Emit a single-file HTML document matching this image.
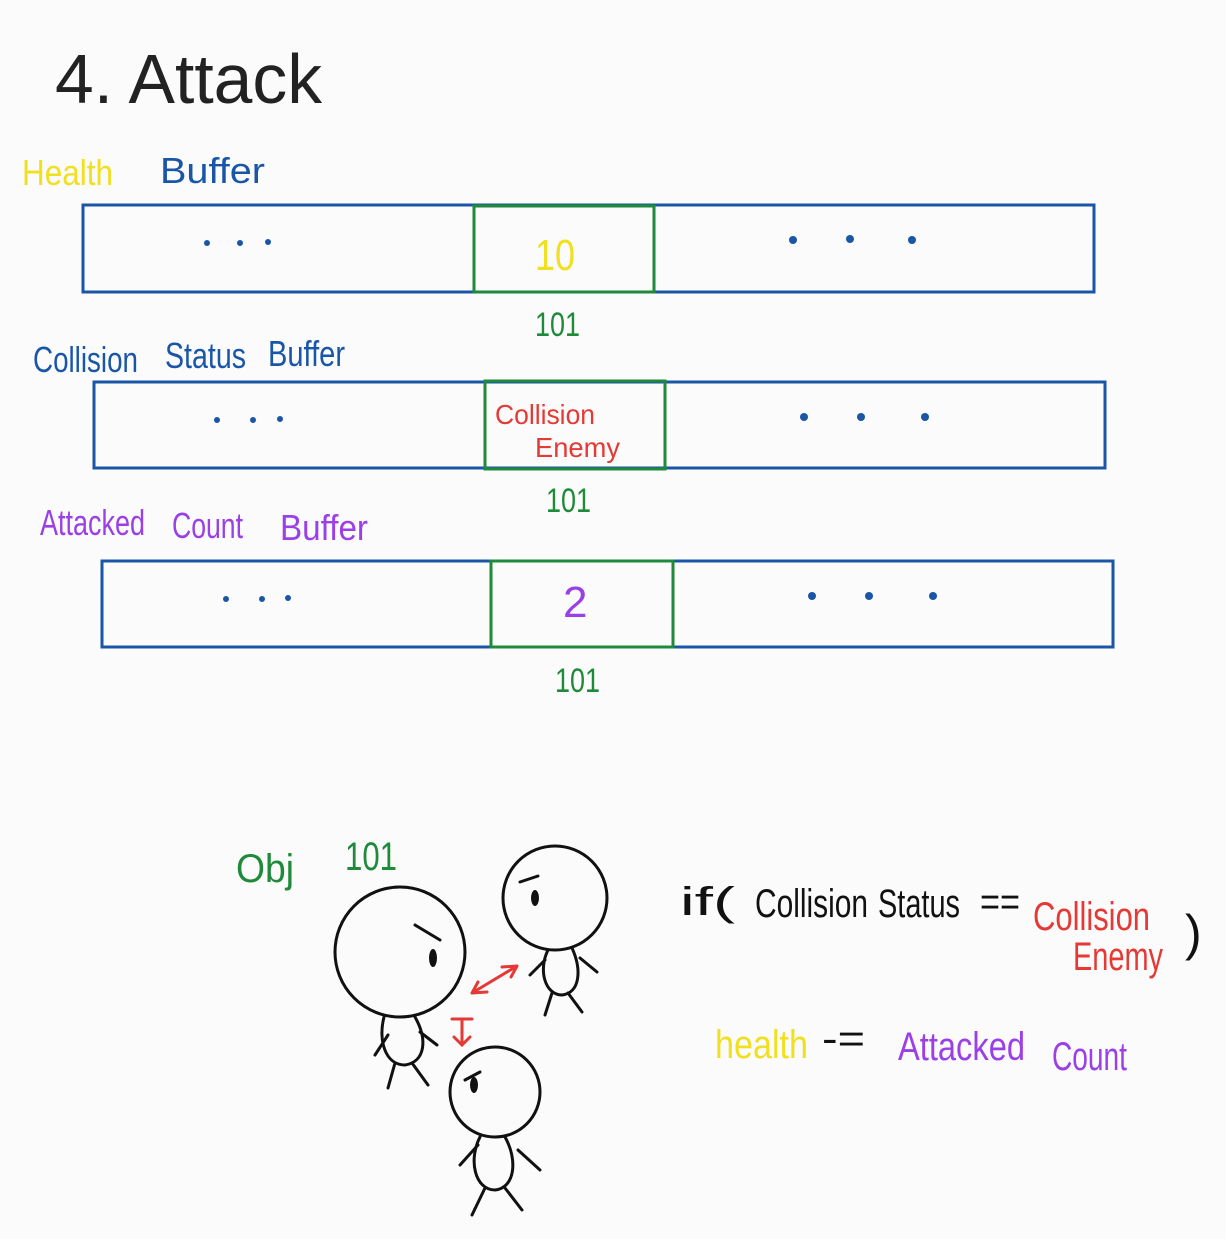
<!DOCTYPE html>
<html><head><meta charset="utf-8"><style>
html,body{margin:0;padding:0;background:#fbfbfb;}
svg{display:block}
text{font-family:"Liberation Sans",sans-serif;}
</style></head><body>
<svg width="1226" height="1239" viewBox="0 0 1226 1239" xmlns="http://www.w3.org/2000/svg">
<rect width="1226" height="1239" fill="#fbfbfb"/>
<text x="55" y="103" font-size="70" fill="#222" textLength="267" lengthAdjust="spacingAndGlyphs">4. Attack</text>

<g font-size="36" lengthAdjust="spacingAndGlyphs">
<text x="22" y="185" fill="#f0e020" textLength="91" lengthAdjust="spacingAndGlyphs">Health</text>
<text x="160" y="183" fill="#1a56a8" textLength="105" lengthAdjust="spacingAndGlyphs">Buffer</text>
<text x="33" y="372" fill="#1a56a8" textLength="105" lengthAdjust="spacingAndGlyphs">Collision</text>
<text x="165" y="368" fill="#1a56a8" textLength="81" lengthAdjust="spacingAndGlyphs">Status</text>
<text x="268" y="366" fill="#1a56a8" textLength="77" lengthAdjust="spacingAndGlyphs">Buffer</text>
<text x="40" y="535" fill="#9b3fe6" textLength="105" lengthAdjust="spacingAndGlyphs">Attacked</text>
<text x="172" y="538" fill="#9b3fe6" textLength="71" lengthAdjust="spacingAndGlyphs">Count</text>
<text x="280" y="540" fill="#9b3fe6" textLength="88" lengthAdjust="spacingAndGlyphs">Buffer</text>
</g>

<g fill="none" stroke-width="3">
<rect x="83" y="205" width="1011" height="87" stroke="#1a56a8"/>
<rect x="474" y="206" width="180" height="86" stroke="#1e8a3a"/>
<rect x="94" y="382" width="1011" height="86" stroke="#1a56a8"/>
<rect x="485" y="381" width="180" height="88" stroke="#1e8a3a"/>
<rect x="102" y="561" width="1011" height="86" stroke="#1a56a8"/>
<rect x="491" y="561" width="182" height="86" stroke="#1e8a3a"/>
</g>
<g fill="#1a56a8">
<circle cx="207" cy="243" r="3"/><circle cx="240" cy="243" r="3"/><circle cx="268" cy="242" r="3"/>
<circle cx="793" cy="240" r="4"/><circle cx="850" cy="239" r="4"/><circle cx="912" cy="240" r="4"/>
<circle cx="217" cy="420" r="3"/><circle cx="253" cy="420" r="3"/><circle cx="280" cy="419" r="3"/>
<circle cx="804" cy="417" r="4"/><circle cx="861" cy="417" r="4"/><circle cx="925" cy="417" r="4"/>
<circle cx="226" cy="599" r="3"/><circle cx="262" cy="599" r="3"/><circle cx="288" cy="598" r="3"/>
<circle cx="812" cy="596" r="4"/><circle cx="869" cy="596" r="4"/><circle cx="933" cy="596" r="4"/>
</g>
<text x="535" y="270" font-size="44" fill="#f0e020" textLength="40" lengthAdjust="spacingAndGlyphs">10</text>
<text x="535" y="336" font-size="34" fill="#1e8a3a" textLength="45" lengthAdjust="spacingAndGlyphs">101</text>
<text x="495" y="424" font-size="28" fill="#e53935" textLength="100" lengthAdjust="spacingAndGlyphs">Collision</text>
<text x="535" y="457" font-size="28" fill="#e53935" textLength="85" lengthAdjust="spacingAndGlyphs">Enemy</text>
<text x="546" y="512" font-size="34" fill="#1e8a3a" textLength="45" lengthAdjust="spacingAndGlyphs">101</text>
<text x="563" y="617" font-size="44" fill="#9b3fe6">2</text>
<text x="555" y="692" font-size="34" fill="#1e8a3a" textLength="45" lengthAdjust="spacingAndGlyphs">101</text>

<text x="236" y="882" font-size="40" fill="#1e8a3a" textLength="58" lengthAdjust="spacingAndGlyphs">Obj</text>
<text x="345" y="870" font-size="40" fill="#1e8a3a" textLength="52" lengthAdjust="spacingAndGlyphs">101</text>

<g fill="none" stroke="#111" stroke-width="3" stroke-linecap="round">
<circle cx="400" cy="952" r="65"/>
<path d="M384 1017 C378 1040 385 1065 405 1065 C425 1062 428 1040 415 1017"/>
<path d="M388 1035 L375 1055 M420 1032 L437 1045 M395 1063 L388 1088 M412 1063 L428 1085"/>
<path d="M415 925 L440 940"/>
<circle cx="555" cy="898" r="52"/>
<path d="M548 950 C538 970 545 995 562 995 C580 993 582 970 572 948"/>
<path d="M545 960 L530 975 M580 958 L597 972 M552 993 L545 1015 M568 993 L582 1012"/>
<path d="M520 882 L538 876"/>
<circle cx="495" cy="1092" r="45"/>
<path d="M480 1137 C468 1160 475 1190 495 1190 C515 1188 518 1160 505 1137"/>
<path d="M478 1145 L460 1165 M518 1150 L540 1170 M485 1188 L472 1215 M505 1188 L522 1210"/>
<path d="M465 1080 L480 1072"/>
</g>
<g fill="#111"><ellipse cx="433" cy="958" rx="4" ry="9"/><ellipse cx="535" cy="898" rx="4" ry="8"/><ellipse cx="474" cy="1085" rx="4" ry="8"/></g>
<g fill="none" stroke="#e53935" stroke-width="3" stroke-linecap="round">
<path d="M472 993 L517 966 M472 993 L487 992 M472 993 L478 982 M517 966 L502 967 M517 966 L511 977"/>
<path d="M462 1019 L462 1043 M452 1019 L472 1019 M454 1037 L462 1045 L470 1037"/>
</g>

<g font-size="40">
<text x="680" y="915" fill="#111" textLength="55" lengthAdjust="spacingAndGlyphs">if(</text>
<text x="755" y="917" fill="#111" textLength="113" lengthAdjust="spacingAndGlyphs">Collision</text>
<text x="878" y="917" fill="#111" textLength="82" lengthAdjust="spacingAndGlyphs">Status</text>
<text x="980" y="915" fill="#111" textLength="40" lengthAdjust="spacingAndGlyphs">==</text>
<text x="1033" y="930" fill="#e53935" textLength="117" lengthAdjust="spacingAndGlyphs">Collision</text>
<text x="1073" y="970" fill="#e53935" textLength="90" lengthAdjust="spacingAndGlyphs">Enemy</text>
<text x="1185" y="950" fill="#111" font-size="50">)</text>
<text x="715" y="1058" fill="#f0e020" textLength="93" lengthAdjust="spacingAndGlyphs">health</text>
<text x="822" y="1052" fill="#111" textLength="43" lengthAdjust="spacingAndGlyphs">-=</text>
<text x="898" y="1060" fill="#9b3fe6" textLength="127" lengthAdjust="spacingAndGlyphs">Attacked</text>
<text x="1052" y="1070" fill="#9b3fe6" textLength="75" lengthAdjust="spacingAndGlyphs">Count</text>
</g>
</svg>
</body></html>
